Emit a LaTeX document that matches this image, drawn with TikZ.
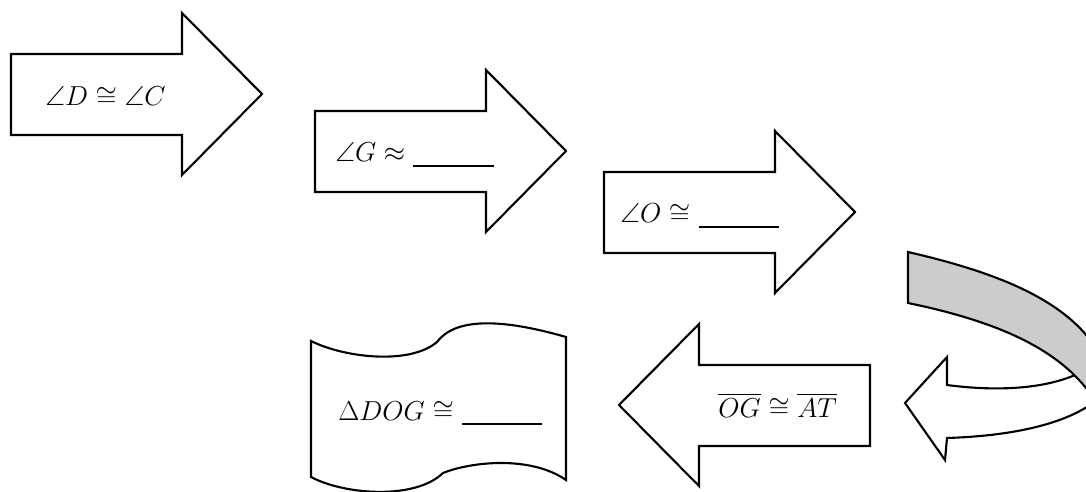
\RequirePackage{fix-cm}
\documentclass[tikz,border=0pt]{standalone}
\usepackage{amsmath,amssymb}
\usepackage{xcolor}
\usepackage{tikz}
\usetikzlibrary{arrows.meta,positioning,calc}
\definecolor{ribbon}{HTML}{CCCCCC}
\newcommand{\blankline}{\rule[-3.5pt]{57pt}{1.2pt}}

\begin{document}
\begin{tikzpicture}[x=0.025cm,y=-0.025cm,
  shapeline/.style={draw,line width=1.5pt,line join=miter},
  lbl/.style={anchor=base west,inner sep=0pt,font=\fontsize{19.5}{23}\selectfont}]
\useasboundingbox (0,0) rectangle (1086,492);
\clip (0,0) rectangle (1086,492);
% block arrows
\foreach \x/\y/\s in {11/54/1, 315/111/1, 604/172/1, 870/365/-1}
  \draw[shapeline,fill=white,shift={(\x,\y)},xscale=\s]
    (0,0) -- (171,0) -- (171,-41) -- (251,40) -- (171,121) -- (171,81) -- (0,81) -- cycle;
% scroll
\draw[shapeline,fill=white] (311,341) .. controls (345,358) and (410,365) .. (437,342)
  .. controls (455,318) and (500,318) .. (566,337) -- (566,480)
  .. controls (530,455) and (470,462) .. (443,473)
  .. controls (415,500) and (345,495) .. (311,477) -- cycle;
% u-turn arrow
\draw[shapeline,fill=white] (905,403) -- (947,357) -- (947,385)
  .. controls (1000,392) and (1045,388) .. (1075,375) -- (1120,345) -- (1120,420) -- (1090,405)
  .. controls (1060,425) and (1010,436) .. (947,438) -- (945,460) -- cycle;
\draw[shapeline,fill=ribbon] (908,252) .. controls (995,272) and (1070,300) .. (1100,355)
  -- (1100,405) -- (1092,396) .. controls (1060,350) and (1000,322) .. (908,303) -- cycle;
% labels
\node[lbl] (dc) at (45,106) {$\angle D \cong \angle C$};
\node[lbl] (gq) at (335,162) {$\angle G \approx$ \blankline};
\node[lbl] (oq) at (620,223) {$\angle O \cong$ \blankline};
\node[lbl] (ogat) at (718,417) {$\overline{OG} \cong \overline{AT}$};
\node[lbl] (dog) at (338,420) {$\Delta DOG \cong$ \blankline};
\end{tikzpicture}
\end{document}
